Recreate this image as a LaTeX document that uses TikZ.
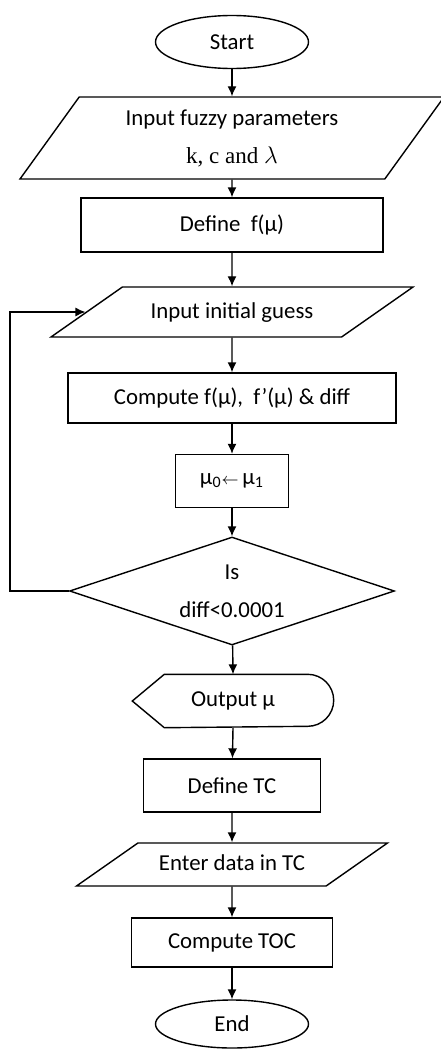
\documentclass[tikz,border=0pt]{standalone}
\usepackage{fontspec}
\setmainfont{Carlito}
\newfontfamily\parfont{Liberation Serif}
\usetikzlibrary{shapes.geometric, arrows.meta}

\begin{document}
\begin{tikzpicture}[x = 0.5pt, y = -0.5pt, line width = 0.7pt,
    >={Latex[length = 5pt, width = 4.5pt]},
    every node/.style = {font = \fontsize{11.4}{14}\selectfont, inner sep = 0pt},
    terminal/.style = {draw, ellipse, minimum width = 76.5pt},
    process/.style = {draw, rectangle},
    io/.style 2 args = {draw, trapezium, trapezium stretches body,
        trapezium left angle = #1, trapezium right angle = #2}]
    \useasboundingbox (0,0) rectangle (440,1049);
    \node[terminal, minimum height = 26.5pt] (start) at (232,42) {Start};
    \node[io = {44}{136}, minimum width = 212pt, minimum height = 41pt, align = center] (fuzzy) at (232,138)
        {Input fuzzy parameters\\[5pt]{\parfont\fontsize{11.5}{14}\selectfont k, c and $\lambda$}};
    \node[process, minimum width = 151pt, minimum height = 27pt] (deff) at (232,225) {Define\ \ f(μ)};
    \node[io = {35}{145}, minimum width = 181pt, text height = 15.5pt, text depth = 9.5pt] (guess) at (232,312)
        {Input initial guess};
    \node[process, minimum width = 164pt, minimum height = 25pt] (comp) at (232,398) {Compute f(μ),\ \ f'(μ) \& diff};
    \node[process, minimum width = 56.5pt, minimum height = 26.5pt] (swap) at (232,481)
        {μ\textsubscript{0}{\fontsize{8}{8}\selectfont$\leftarrow$}\,μ\textsubscript{1}};
    \node[draw, diamond, shape aspect = 3, minimum width = 162.5pt, minimum height = 54pt, align = center] (test) at (232,591)
        {Is\\[5pt]diff<0.0001};
    \node[minimum width = 100pt, minimum height = 26pt] (out) at (233,701) {Output μ};
    \draw ([xshift = 16pt]out.north west) -- ([xshift = -13pt]out.north east) arc (90:-90:13pt)
        -- ([xshift = 16pt]out.south west) -- (out.west) -- cycle;
    \node[process, minimum width = 88.5pt, minimum height = 26.5pt] (deftc) at (232,785.5) {Define TC};
    \node[io = {35}{145}, minimum width = 155.5pt, text height = 13.75pt, text depth = 7.75pt] (enter) at (232,864.5)
        {Enter data in TC};
    \node[process, minimum width = 100.5pt, minimum height = 24.5pt] (toc) at (232,942.5) {Compute TOC};
    \node[terminal, minimum height = 24pt] (end) at (232,1024) {End};
    \coordinate (back) at (10,591);

    \draw[->] (start) -- (fuzzy);
    \draw[->] (fuzzy) -- (deff);
    \draw[->] (deff) -- (guess);
    \draw[->] (guess) -- (comp);
    \draw[->] (comp) -- (swap);
    \draw[->] (swap) -- (test);
    \draw[->] (test) -- (out.north);
    \draw[->] (out.south) -- (deftc);
    \draw[->] (deftc) -- (enter);
    \draw[->] (enter) -- (toc);
    \draw[->] (toc) -- (end);
    \draw[->] (test.west) -- (back) |- (guess.west);
\end{tikzpicture}
\end{document}
